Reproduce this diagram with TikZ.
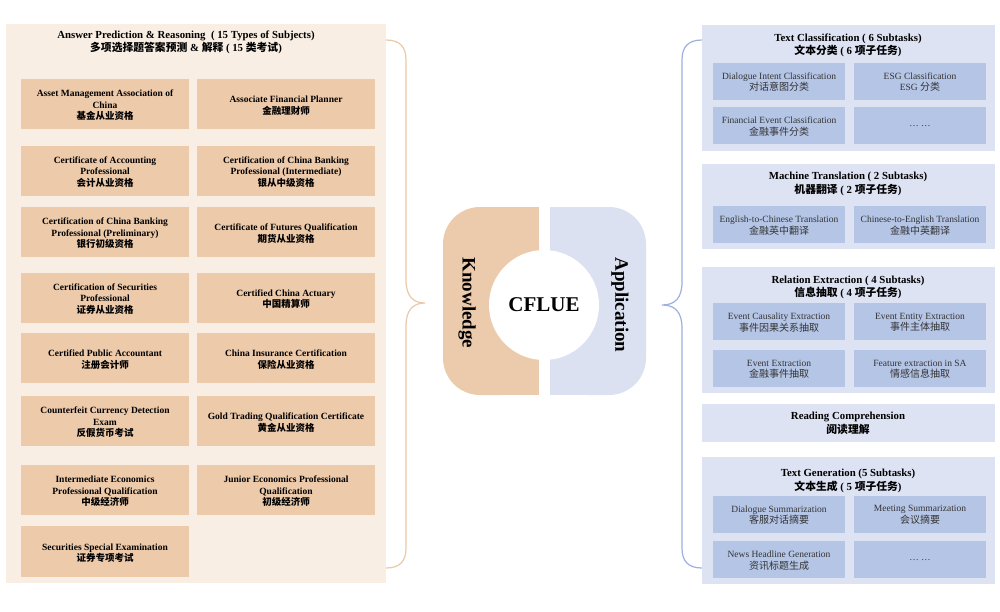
\documentclass[tikz,border=0pt]{standalone}
\usepackage{fontspec}
\setmainfont{Liberation Serif}
\newfontfamily\cjk{Noto Sans CJK SC}
\newcommand\zh[1]{{\cjk #1}}
\newcommand\zhL[1]{{\cjk\fontsize{9.5}{11.5}\selectfont #1}}
\newcommand\zhR[1]{{\cjk\fontsize{10}{11.5}\selectfont #1}}
\definecolor{leftbg}{HTML}{F8EEE4}
\definecolor{leftbox}{HTML}{EDCAAA}
\definecolor{rightbg}{HTML}{DEE3F3}
\definecolor{rightbox}{HTML}{B5C5E6}
\definecolor{knowc}{HTML}{ECCBAC}
\definecolor{appc}{HTML}{DCE1F2}
\definecolor{lbrace}{HTML}{EBC9A8}
\definecolor{rbrace}{HTML}{9DB0DE}
\begin{document}
\begin{tikzpicture}[x=1pt,y=-1pt,
  lbox/.style={fill=leftbox, minimum width=168pt, minimum height=50pt, align=center, inner sep=0pt,
    font=\bfseries\fontsize{9.5}{11.5}\selectfont},
  ltext/.style={align=center, inner sep=0pt, yshift=-1.5pt, font=\bfseries\fontsize{9.5}{11.5}\selectfont},
  rbox/.style={fill=rightbox, minimum width=132pt, minimum height=37pt, inner sep=0pt},
  rtext/.style={align=center, inner sep=0pt, yshift=-1pt, text=black!80, font=\fontsize{9.5}{11.5}\selectfont},
  rpanel/.style={fill=rightbg, minimum width=293pt, inner sep=0pt},
  rtitle/.style={align=center, inner sep=0pt, yshift=-1.5pt, font=\bfseries\fontsize{10.8}{13.5}\selectfont},
  bracel/.style={draw=lbrace, line width=1.2pt},
  bracer/.style={draw=rbrace, line width=1.2pt},
  sidelabel/.style={rotate=-90, inner sep=0pt, font=\bfseries\fontsize{19}{22}\selectfont}
]
\useasboundingbox (0,0) rectangle (1000,611);
\fill[white] (0,0) rectangle (1000,611);

% ---------- left panel ----------
\node[fill=leftbg, minimum width=380pt, minimum height=559pt, inner sep=0pt] (lp) at (196,303.5) {};
\node[align=center, inner sep=0pt, font=\bfseries\fontsize{10.8}{13}\selectfont] (lt) at (186,42)
  {Answer Prediction \& Reasoning\ \ ( 15 Types of Subjects)\\\zh{多项选择题答案预测} \& \zh{解释}\ ( 15 \zh{类考试})};

\node[lbox] (a1) at (105,104) {};
\node[ltext] at (a1) {Asset Management Association of\\China\\\zhL{基金从业资格}};
\node[lbox, minimum width=178pt] (b1) at (286,104) {};
\node[ltext] at (b1) {Associate Financial Planner\\\zhL{金融理财师}};
\node[lbox] (a2) at (105,170.5) {};
\node[ltext] at (a2) {Certificate of Accounting\\Professional\\\zhL{会计从业资格}};
\node[lbox, minimum width=178pt] (b2) at (286,170.5) {};
\node[ltext] at (b2) {Certification of China Banking\\Professional (Intermediate)\\\zhL{银从中级资格}};
\node[lbox] (a3) at (105,232) {};
\node[ltext] at (a3) {Certification of China Banking\\Professional (Preliminary)\\\zhL{银行初级资格}};
\node[lbox, minimum width=178pt] (b3) at (286,232) {};
\node[ltext] at (b3) {Certificate of Futures Qualification\\\zhL{期货从业资格}};
\node[lbox] (a4) at (105,297.5) {};
\node[ltext] at (a4) {Certification of Securities\\Professional\\\zhL{证券从业资格}};
\node[lbox, minimum width=178pt] (b4) at (286,297.5) {};
\node[ltext] at (b4) {Certified China Actuary\\\zhL{中国精算师}};
\node[lbox] (a5) at (105,358) {};
\node[ltext] at (a5) {Certified Public Accountant\\\zhL{注册会计师}};
\node[lbox, minimum width=178pt] (b5) at (286,358) {};
\node[ltext] at (b5) {China Insurance Certification\\\zhL{保险从业资格}};
\node[lbox] (a6) at (105,421) {};
\node[ltext] at (a6) {Counterfeit Currency Detection\\Exam\\\zhL{反假货币考试}};
\node[lbox, minimum width=178pt] (b6) at (286,421) {};
\node[ltext] at (b6) {Gold Trading Qualification Certificate\\\zhL{黄金从业资格}};
\node[lbox] (a7) at (105,490) {};
\node[ltext] at (a7) {Intermediate Economics\\Professional Qualification\\\zhL{中级经济师}};
\node[lbox, minimum width=178pt] (b7) at (286,490) {};
\node[ltext] at (b7) {Junior Economics Professional\\Qualification\\\zhL{初级经济师}};
\node[lbox, minimum height=51pt] (a8) at (105,551.5) {};
\node[ltext] at (a8) {Securities Special Examination\\\zhL{证券专项考试}};

% ---------- center ----------
\fill[knowc, rounded corners=37pt] (443,207) rectangle (539,395);
\fill[knowc] (500,207) rectangle (539,395);
\fill[appc, rounded corners=37pt] (550,207) rectangle (646,395);
\fill[appc] (550,207) rectangle (590,395);
\fill[white] (544,305) circle (55);
\node[font=\bfseries\fontsize{21}{24}\selectfont, inner sep=0pt] (cf) at (544,305) {CFLUE};
\node[sidelabel] (kn) at (467,303) {Knowledge};
\node[sidelabel] (ap) at (620,305) {Application};

% ---------- braces ----------
\coordinate (lbT) at (386,40);
\coordinate (lbB) at (386,568);
\coordinate (lbP) at (425,303);
\coordinate (rbT) at (702,40);
\coordinate (rbB) at (702,568);
\coordinate (rbP) at (662,305);
\draw[bracel] (lbT) .. controls (400,40) and (406,47) .. (406,60) -- (406,280)
  .. controls (406,296) and (413,303) .. (lbP) .. controls (413,303) and (406,310) .. (406,326)
  -- (406,548) .. controls (406,561) and (400,568) .. (lbB);
\draw[bracer] (rbT) .. controls (688,40) and (682,47) .. (682,60) -- (682,282)
  .. controls (682,298) and (675,305) .. (rbP) .. controls (675,305) and (682,312) .. (682,328)
  -- (682,548) .. controls (682,561) and (688,568) .. (rbB);

% ---------- right panels ----------
\node[rpanel, minimum height=126pt] (p1) at (848.5,88) {};
\node[rtitle] (t1) at (848,44) {Text Classification ( 6 Subtasks)\\\zh{文本分类} ( 6 \zh{项子任务})};
\node[rbox] (c11) at (779,81) {};
\node[rtext] at (c11) {Dialogue Intent Classification\\\zhR{对话意图分类}};
\node[rbox] (c12) at (920,81) {};
\node[rtext] at (c12) {ESG Classification\\ESG \zhR{分类}};
\node[rbox] (c13) at (779,125.5) {};
\node[rtext] at (c13) {Financial Event Classification\\\zhR{金融事件分类}};
\node[rbox] (c14) at (920,125.5) {};
\node[rtext] at (c14) {… …};

\node[rpanel, minimum height=85pt] (p2) at (848.5,206.5) {};
\node[rtitle] (t2) at (848,182.5) {Machine Translation ( 2 Subtasks)\\\zh{机器翻译} ( 2 \zh{项子任务})};
\node[rbox] (c21) at (779,224.5) {};
\node[rtext] at (c21) {English-to-Chinese Translation\\\zhR{金融英中翻译}};
\node[rbox] (c22) at (920,224.5) {};
\node[rtext] at (c22) {Chinese-to-English Translation\\\zhR{金融中英翻译}};

\node[rpanel, minimum height=126pt] (p3) at (848.5,330) {};
\node[rtitle] (t3) at (848,286) {Relation Extraction ( 4 Subtasks)\\\zh{信息抽取} ( 4 \zh{项子任务})};
\node[rbox] (c31) at (779,321.5) {};
\node[rtext] at (c31) {Event Causality Extraction\\\zhR{事件因果关系抽取}};
\node[rbox] (c32) at (920,321.5) {};
\node[rtext] at (c32) {Event Entity Extraction\\\zhR{事件主体抽取}};
\node[rbox] (c33) at (779,368.5) {};
\node[rtext] at (c33) {Event Extraction\\\zhR{金融事件抽取}};
\node[rbox] (c34) at (920,368.5) {};
\node[rtext] at (c34) {Feature extraction in SA\\\zhR{情感信息抽取}};

\node[rpanel, minimum height=38pt] (p4) at (848.5,423) {};
\node[rtitle] (t4) at (848,422) {Reading Comprehension\\\zh{阅读理解}};

\node[rpanel, minimum height=127pt] (p5) at (848.5,520.5) {};
\node[rtitle] (t5) at (848,479.5) {Text Generation (5 Subtasks)\\\zh{文本生成} ( 5 \zh{项子任务})};
\node[rbox] (c51) at (779,514) {};
\node[rtext] at (c51) {Dialogue Summarization\\\zhR{客服对话摘要}};
\node[rbox] (c52) at (920,514) {};
\node[rtext] at (c52) {Meeting Summarization\\\zhR{会议摘要}};
\node[rbox] (c53) at (779,559.5) {};
\node[rtext] at (c53) {News Headline Generation\\\zhR{资讯标题生成}};
\node[rbox] (c54) at (920,559.5) {};
\node[rtext] at (c54) {… …};
\end{tikzpicture}
\end{document}
